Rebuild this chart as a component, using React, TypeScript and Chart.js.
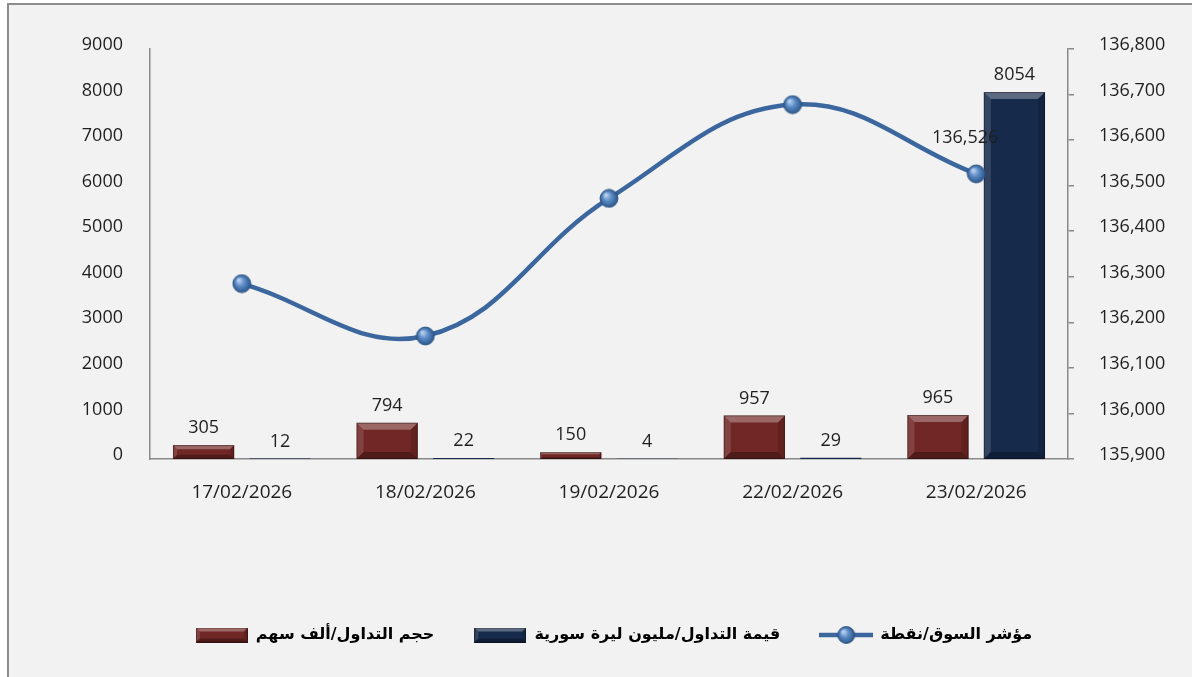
import React, { useEffect, useRef } from 'react';
import { Chart, registerables } from 'chart.js';

Chart.register(...registerables);

// ---------------- data ----------------
const categories = ['17/02/2026', '18/02/2026', '19/02/2026', '22/02/2026', '23/02/2026'];
const volumeValues = [305, 794, 150, 957, 965]; // حجم التداول/ألف سهم
const tradeValues = [12, 22, 4, 29, 8054]; // قيمة التداول/مليون ليرة سورية
const indexValues = [136285, 136170, 136472, 136678, 136526]; // مؤشر السوق/نقطة
const seriesNames = ['حجم التداول/ألف سهم', 'قيمة التداول/مليون ليرة سورية', 'مؤشر السوق/نقطة'];
const leftAxis = { min: 0, max: 9000, step: 1000 };
const rightAxis = { min: 135900, max: 136800, step: 100 };
const labeledIndexPoint = 4;

// ---------------- styles ----------------
const RED = '#702725';
const BLUE = '#162a4b';
const LINE = '#3b679e';
const AXIS = '#8a8a8a';
const TEXT = '#1f1f1f';
const NUM_FONT = 'Open Sans';
const AR_FONT = 'DejaVu Sans';

function poly(ctx: CanvasRenderingContext2D, pts: number[][], fill: string) {
  ctx.beginPath();
  ctx.moveTo(pts[0][0], pts[0][1]);
  for (let i = 1; i < pts.length; i++) ctx.lineTo(pts[i][0], pts[i][1]);
  ctx.closePath();
  ctx.fillStyle = fill;
  ctx.fill();
}

function drawBevel(ctx: CanvasRenderingContext2D, L: number, T: number, R: number, B: number, b: number) {
  poly(ctx, [[L, T], [R, T], [R - b, T + b], [L + b, T + b]], 'rgba(255,255,255,0.30)');
  poly(ctx, [[L, T], [L + b, T + b], [L + b, B - b], [L, B]], 'rgba(255,255,255,0.13)');
  poly(ctx, [[R, T], [R, B], [R - b, B - b], [R - b, T + b]], 'rgba(0,0,0,0.14)');
  poly(ctx, [[L, B], [L + b, B - b], [R - b, B - b], [R, B]], 'rgba(0,0,0,0.28)');
  ctx.strokeStyle = 'rgba(0,0,0,0.35)';
  ctx.lineWidth = 1;
  ctx.strokeRect(L + 0.5, T + 0.5, R - L - 1, B - T - 1);
}

function makeBoxIcon(color: string) {
  const c = document.createElement('canvas');
  c.width = 52;
  c.height = 15;
  const ctx = c.getContext('2d')!;
  ctx.fillStyle = color;
  ctx.fillRect(0, 0, 52, 15);
  drawBevel(ctx, 0, 0, 52, 15, 4);
  return c;
}

function drawMarker(ctx: CanvasRenderingContext2D, cx: number, cy: number, r: number) {
  const g = ctx.createRadialGradient(cx - r * 0.35, cy - r * 0.4, 1, cx, cy, r);
  g.addColorStop(0, '#b4cdee');
  g.addColorStop(0.45, '#5b8bc6');
  g.addColorStop(1, '#2b5689');
  ctx.beginPath();
  ctx.arc(cx, cy, r, 0, Math.PI * 2);
  ctx.fillStyle = g;
  ctx.fill();
  ctx.lineWidth = 0.8;
  ctx.strokeStyle = '#2a4f7e';
  ctx.stroke();
}

function makeMarker() {
  const c = document.createElement('canvas');
  c.width = 20;
  c.height = 20;
  const ctx = c.getContext('2d')!;
  drawMarker(ctx, 10, 10, 9);
  return c;
}

function makeLineIcon() {
  const c = document.createElement('canvas');
  c.width = 54;
  c.height = 20;
  const ctx = c.getContext('2d')!;
  ctx.strokeStyle = LINE;
  ctx.lineWidth = 4.5;
  ctx.beginPath();
  ctx.moveTo(0, 10);
  ctx.lineTo(54, 10);
  ctx.stroke();
  drawMarker(ctx, 27, 10, 8.5);
  return c;
}

const bevelPlugin = {
  id: 'bevel',
  afterDatasetDraw(chart: any, args: any) {
    const ds = chart.data.datasets[args.index];
    if (ds.type === 'line') return;
    const ctx = chart.ctx as CanvasRenderingContext2D;
    ctx.save();
    args.meta.data.forEach((el: any) => {
      const { x, y, base, width } = el.getProps(['x', 'y', 'base', 'width'], true);
      const L = x - width / 2;
      const R = x + width / 2;
      const T = Math.min(y, base);
      const B = Math.max(y, base);
      const h = B - T;
      if (h < 3) return;
      const b = Math.min(7, h * 0.3);
      drawBevel(ctx, L, T, R, B, b);
    });
    ctx.restore();
  },
};

const labelPlugin = {
  id: 'valueLabels',
  afterDatasetsDraw(chart: any) {
    const ctx = chart.ctx as CanvasRenderingContext2D;
    ctx.save();
    ctx.font = `18px "${NUM_FONT}"`;
    ctx.fillStyle = TEXT;
    ctx.textAlign = 'center';
    ctx.textBaseline = 'middle';
    chart.data.datasets.forEach((ds: any, i: number) => {
      const meta = chart.getDatasetMeta(i);
      if (ds.type === 'line') {
        const el = meta.data[labeledIndexPoint];
        if (el) {
          const v = ds.data[labeledIndexPoint] as number;
          ctx.fillText(v.toLocaleString('en-US'), el.x - 11, el.y - 36);
        }
      } else {
        meta.data.forEach((el: any, j: number) => {
          ctx.fillText(String(ds.data[j]), el.x, el.y - 17);
        });
      }
    });
    ctx.restore();
  },
};

export default function App() {
  const ref = useRef<HTMLCanvasElement>(null);

  useEffect(() => {
    const canvas = ref.current!;
    const icons = [makeBoxIcon(RED), makeBoxIcon(BLUE), makeLineIcon()];
    const marker = makeMarker();
    const tickFont = { family: NUM_FONT, size: 18, lineHeight: 0.45 };

    const chart = new Chart(canvas, {
      type: 'bar',
      data: {
        labels: categories,
        datasets: [
          {
            type: 'bar',
            label: seriesNames[0],
            data: volumeValues,
            backgroundColor: RED,
            yAxisID: 'y',
            order: 1,
            categoryPercentage: 0.833,
            barPercentage: 0.8,
          },
          {
            type: 'bar',
            label: seriesNames[1],
            data: tradeValues,
            backgroundColor: BLUE,
            yAxisID: 'y',
            order: 1,
            categoryPercentage: 0.833,
            barPercentage: 0.8,
          },
          {
            type: 'line',
            label: seriesNames[2],
            data: indexValues,
            borderColor: LINE,
            borderWidth: 4.5,
            tension: 0.4,
            pointStyle: marker as any,
            pointRadius: 9,
            yAxisID: 'y1',
            order: 0,
          },
        ] as any,
      },
      options: {
        responsive: false,
        animation: false,
        devicePixelRatio: 1,
        layout: { padding: { left: 36, right: 0, top: 49, bottom: 24 } },
        plugins: {
          tooltip: { enabled: false },
          legend: {
            position: 'bottom',
            labels: {
              usePointStyle: true,
              pointStyleWidth: 52,
              boxHeight: 16,
              padding: 40,
              color: '#111',
              font: { family: AR_FONT, size: 16, weight: 'bold' },
              generateLabels: () =>
                [0, 1, 2].map((i) => ({
                  text: seriesNames[i],
                  pointStyle: icons[i],
                  datasetIndex: i,
                  hidden: false,
                  lineWidth: 0,
                  fillStyle: 'transparent',
                  strokeStyle: 'transparent',
                })) as any,
            },
          },
        },
        scales: {
          x: {
            offset: true,
            grid: { display: false, drawTicks: false },
            border: { display: true, color: AXIS, width: 1.5 },
            ticks: { color: TEXT, font: { family: NUM_FONT, size: 19 }, padding: 22, maxRotation: 0 },
            afterFit: (s: any) => {
              s.height = 128;
            },
          },
          y: {
            position: 'left',
            min: leftAxis.min,
            max: leftAxis.max,
            grid: { display: false, drawTicks: false },
            border: { display: true, color: AXIS, width: 1.5 },
            ticks: {
              stepSize: leftAxis.step,
              color: TEXT,
              font: tickFont,
              padding: 27,
              callback: (v: any) => [String(v), ''],
            },
            afterFit: (s: any) => {
              s.width = 114;
            },
          },
          y1: {
            position: 'right',
            min: rightAxis.min,
            max: rightAxis.max,
            grid: { display: true, drawOnChartArea: false, drawTicks: true, tickLength: 6, color: AXIS, lineWidth: 1.5 },
            border: { display: true, color: AXIS, width: 1.5 },
            ticks: {
              stepSize: rightAxis.step,
              color: TEXT,
              font: tickFont,
              padding: 25,
              callback: (v: any) => [Number(v).toLocaleString('en-US'), ''],
            },
            afterFit: (s: any) => {
              s.width = 124;
            },
          },
        },
      } as any,
      plugins: [bevelPlugin, labelPlugin],
    });

    return () => chart.destroy();
  }, []);

  return (
    <div style={{ position: 'fixed', left: 0, top: 0, width: 1192, height: 677, background: '#ffffff', overflow: 'hidden' }}>
      <div
        style={{
          position: 'absolute',
          left: 7,
          top: 3,
          right: 0,
          bottom: 0,
          background: '#f2f2f2',
          borderLeft: '2.5px solid #8c8c8c',
          borderTop: '2.5px solid #8c8c8c',
        }}
      />
      <canvas ref={ref} width={1192} height={677} style={{ position: 'absolute', left: 0, top: 0 }} />
    </div>
  );
}
